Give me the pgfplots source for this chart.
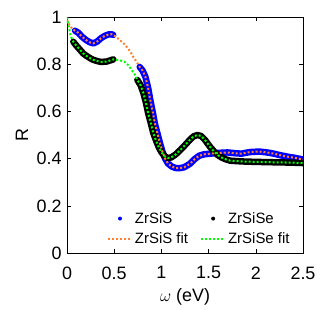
\documentclass[border=0pt]{standalone}
\usepackage{pgfplots}
\pgfplotsset{compat=1.18}
\usepackage{fontspec}
\setmainfont{Liberation Sans}
\definecolor{fitorange}{rgb}{1.0,0.5,0.2}
\definecolor{fitgreen}{rgb}{0.0,1.0,0.0}
\begin{document}
\begin{tikzpicture}
\begin{axis}[
  at={(0,0)}, anchor=south west,
  scale only axis, width=236bp, height=235.5bp,
  xmin=0, xmax=2.5, ymin=0, ymax=1,
  xtick={0,0.5,1,1.5,2,2.5}, ytick={0,0.2,0.4,0.6,0.8,1},
  xticklabels={0,0.5,1,1.5,2,2.5}, yticklabels={0,0.2,0.4,0.6,0.8,1},
  tick label style={font=\fontsize{18}{21}\selectfont},
  major tick length=4bp,
  tick style={black, line width=0.6bp},
  axis line style={line width=0.8bp},
  xticklabel style={yshift=-10bp},
  yticklabel style={xshift=-2bp},
  xlabel={$\omega$ (eV)}, ylabel={R},
  label style={font=\fontsize{18}{21}\selectfont},
  xlabel style={at={(rel axis cs:0.5,0)}, anchor=base, yshift=-49bp},
  ylabel style={at={(rel axis cs:0,0.5)}, anchor=center, yshift=45bp},
  unbounded coords=jump,
  legend columns=2,
  legend style={draw=none, fill=none, font=\fontsize{15}{18}\selectfont,
    at={(axis cs:0.39,0.19)}, anchor=north west,
    /tikz/every even column/.append style={column sep=10bp},
    row sep=4bp},
  legend cell align=left,
]
% ZrSiS data
\addplot[blue, line width=6.5bp, line cap=round, line join=round,
  legend image code/.code={\path[fill=blue, draw=none] (12bp,0bp) circle (2bp);}] table {
x y
0.085 0.944
0.12 0.935
0.16 0.918
0.20 0.905
0.24 0.895
0.28 0.890
0.32 0.898
0.36 0.912
0.40 0.922
0.44 0.928
0.47 0.929
0.49 0.926
0.63 nan
0.77 0.790
0.80 0.775
0.83 0.749
0.86 0.700
0.88 0.655
0.91 0.595
0.93 0.551
0.96 0.505
0.985 0.466
1.01 0.432
1.04 0.400
1.07 0.380
1.11 0.367
1.15 0.361
1.19 0.360
1.24 0.364
1.30 0.378
1.35 0.398
1.40 0.413
1.45 0.419
1.50 0.421
1.55 0.423
1.60 0.425
1.65 0.426
1.70 0.427
1.75 0.425
1.80 0.423
1.85 0.422
1.90 0.426
1.95 0.429
2.00 0.430
2.05 0.430
2.10 0.428
2.15 0.425
2.20 0.421
2.25 0.416
2.30 0.412
2.35 0.408
2.40 0.405
2.45 0.401
2.50 0.397
};
\addlegendentry{ZrSiS}
% ZrSiSe data
\addplot[black, line width=6.5bp, line cap=round, line join=round,
  legend image code/.code={\path[fill=black, draw=none] (12bp,0bp) circle (2bp);}] table {
x y
0.067 0.897
0.10 0.880
0.14 0.862
0.17 0.848
0.21 0.836
0.25 0.826
0.28 0.820
0.32 0.815
0.35 0.812
0.385 0.812
0.42 0.813
0.46 0.818
0.49 0.822
0.62 nan
0.745 0.735
0.78 0.712
0.81 0.678
0.835 0.640
0.86 0.593
0.89 0.548
0.915 0.508
0.945 0.476
0.97 0.451
1.00 0.428
1.04 0.409
1.07 0.404
1.10 0.405
1.15 0.418
1.20 0.437
1.25 0.458
1.30 0.480
1.34 0.495
1.38 0.501
1.42 0.497
1.46 0.481
1.515 0.451
1.56 0.430
1.60 0.415
1.64 0.405
1.68 0.398
1.73 0.392
1.80 0.390
1.90 0.388
2.00 0.387
2.10 0.386
2.22 0.385
2.35 0.384
2.50 0.382
};
\addlegendentry{ZrSiSe}
% ZrSiS fit
\addplot[fitorange, line width=2bp, dash pattern=on 2bp off 2bp,
  legend image code/.code={\draw[fitorange, line width=2bp, dash pattern=on 2bp off 2bp] (0bp,0bp) -- (24bp,0bp);}] table {
x y
0.00 0.990
0.03 0.965
0.06 0.950
0.085 0.944
0.12 0.935
0.16 0.918
0.20 0.905
0.24 0.895
0.28 0.890
0.32 0.898
0.36 0.912
0.40 0.922
0.44 0.928
0.47 0.929
0.49 0.926
0.53 0.915
0.56 0.904
0.60 0.890
0.63 0.876
0.67 0.856
0.70 0.834
0.74 0.810
0.77 0.790
0.80 0.775
0.83 0.749
0.86 0.700
0.88 0.655
0.91 0.595
0.93 0.551
0.96 0.505
0.985 0.466
1.01 0.432
1.04 0.400
1.07 0.380
1.11 0.367
1.15 0.361
1.19 0.360
1.24 0.364
1.30 0.378
1.35 0.398
1.40 0.413
1.45 0.419
1.50 0.421
1.55 0.423
1.60 0.425
1.65 0.426
1.70 0.427
1.75 0.425
1.80 0.423
1.85 0.422
1.90 0.426
1.95 0.429
2.00 0.430
2.05 0.430
2.10 0.428
2.15 0.425
2.20 0.421
2.25 0.416
2.30 0.412
2.35 0.408
2.40 0.405
2.45 0.401
2.50 0.397
};
\addlegendentry{ZrSiS fit}
% ZrSiSe fit
\addplot[fitgreen, line width=2bp, dash pattern=on 2bp off 2bp,
  legend image code/.code={\draw[fitgreen, line width=2bp, dash pattern=on 2bp off 2bp] (0bp,0bp) -- (24bp,0bp);}] table {
x y
0.00 1.000
0.02 0.960
0.04 0.920
0.067 0.897
0.10 0.880
0.14 0.862
0.17 0.848
0.21 0.836
0.25 0.826
0.28 0.820
0.32 0.815
0.35 0.812
0.385 0.812
0.42 0.813
0.46 0.818
0.49 0.822
0.53 0.820
0.57 0.817
0.61 0.812
0.65 0.797
0.685 0.777
0.72 0.757
0.745 0.735
0.78 0.712
0.81 0.678
0.835 0.640
0.86 0.593
0.89 0.548
0.915 0.508
0.945 0.476
0.97 0.451
1.00 0.428
1.04 0.409
1.07 0.404
1.10 0.405
1.15 0.418
1.20 0.437
1.25 0.458
1.30 0.480
1.34 0.495
1.38 0.501
1.42 0.497
1.46 0.481
1.515 0.451
1.56 0.430
1.60 0.415
1.64 0.405
1.68 0.398
1.73 0.392
1.80 0.390
1.90 0.388
2.00 0.387
2.10 0.386
2.22 0.385
2.35 0.384
2.50 0.382
};
\addlegendentry{ZrSiSe fit}
\end{axis}
\path[use as bounding box] (-67bp,-53bp) rectangle (265bp,253bp);
\end{tikzpicture}
\end{document}
